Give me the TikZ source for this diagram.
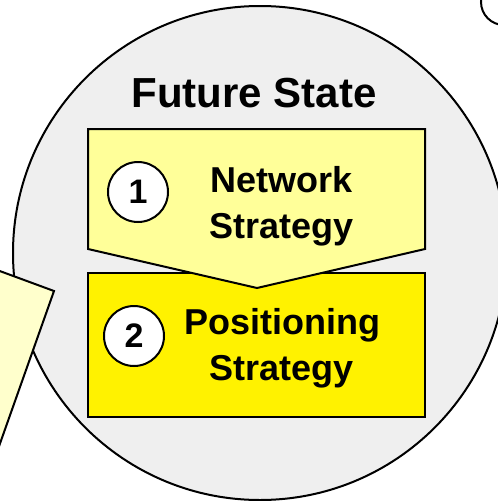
\documentclass[tikz,border=0pt]{standalone}
\usepackage{fontspec}
\setmainfont{Liberation Sans}
\definecolor{stategray}{HTML}{EFEFEF}
\definecolor{paleyellow}{HTML}{FFFFCC}
\definecolor{lightyellow}{HTML}{FFFF99}
\begin{document}
\begin{tikzpicture}
[x=1pt,y=-1pt,line width=2pt,font=\bfseries]
\useasboundingbox (0,0) rectangle (498,501);
\path (504,2) node (corner) [shape=circle,draw,fill=white,inner sep=0,minimum size=46pt] {}
(260,253) node (state) [shape=circle,draw,fill=stategray,inner sep=0,minimum size=494pt] {};
\draw [fill=paleyellow] (-60,249) -- (54,291) -- (-20,500) -- (-120,460) -- cycle;
\draw [fill=yellow] (88,273) rectangle (425,417);
\draw [fill=lightyellow] (88,129) -- (425,129) -- (425,249) -- (257,288) -- (88,249) -- cycle;
\path (254,107) node (title) [anchor=base,font=\fontsize{42}{42}\selectfont\bfseries] {Future State}
(282,165) node (network) [anchor=north,inner sep=0,align=center,font=\fontsize{36}{46}\selectfont\bfseries] {Network\\Strategy}
(282,307) node (positioning) [anchor=north,inner sep=0,align=center,font=\fontsize{36}{46}\selectfont\bfseries] {Positioning\\Strategy}
(138,192) node (1) [shape=circle,draw,fill=white,inner sep=0,minimum size=60pt,font=\fontsize{34}{34}\selectfont\bfseries] {1}
(134,336) node (2) [shape=circle,draw,fill=white,inner sep=0,minimum size=60pt,font=\fontsize{34}{34}\selectfont\bfseries] {2};
\end{tikzpicture}
\end{document}
